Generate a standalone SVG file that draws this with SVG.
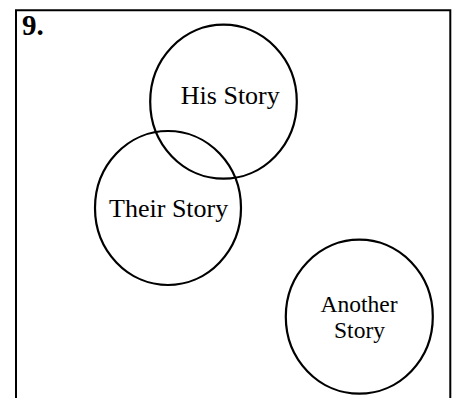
<svg xmlns="http://www.w3.org/2000/svg" width="458" height="398" viewBox="0 0 458 398">
<style>
.frame{fill:none;stroke:#000;stroke-width:2}
.c{fill:none;stroke:#000;stroke-width:2.2}
.t{font-family:"Liberation Serif","Times New Roman",serif;fill:#000;text-anchor:middle}
.big{font-size:26px}
.small{font-size:23.5px}
.num{font-family:"Liberation Serif","Times New Roman",serif;font-weight:bold;font-size:29px;fill:#000}
</style>
<rect width="458" height="398" fill="#fff"/>
<path class="frame" d="M16,400 V10.3 H450.3 V400"/>
<text class="num" x="22" y="34.5">9.</text>
<g id="connectors"></g>
<g id="his-story">
<ellipse class="c" cx="223.5" cy="101.7" rx="73.3" ry="77"/>
<text class="t big" x="230.3" y="104">His Story</text>
</g>
<g id="their-story">
<ellipse class="c" cx="168" cy="208" rx="73" ry="77"/>
<text class="t big" x="168.7" y="216.7">Their Story</text>
</g>
<g id="another-story">
<ellipse class="c" cx="359.3" cy="316.7" rx="73.5" ry="77"/>
<text class="t small" x="359" y="311.5">Another</text>
<text class="t small" x="359.5" y="337.7">Story</text>
</g>
</svg>
